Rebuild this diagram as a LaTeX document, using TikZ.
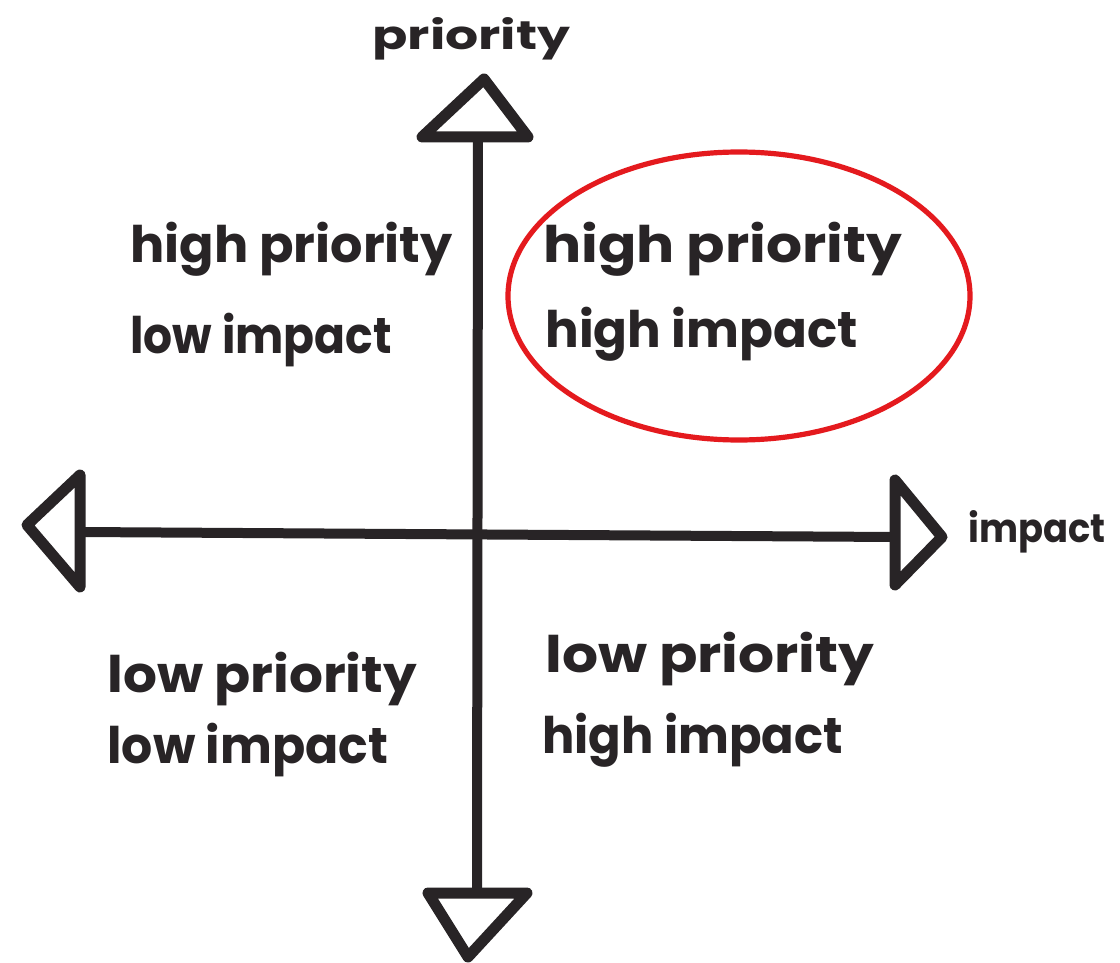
\documentclass[tikz,border=0pt]{standalone}
\usepackage{graphicx}
\usepackage{fontspec}
\setmainfont{Poppins}
\definecolor{ink}{RGB}{40,36,38}
\definecolor{marker}{RGB}{228,26,30}
% hand-lettered line: horizontal stretch factor, then the words
\newcommand{\handline}[2]{\scalebox{#1}[1.05]{#2}}
\begin{document}
\begin{tikzpicture}[x=0.5pt,y=-0.5pt,
  axisline/.style={draw=ink, line width=5pt, line cap=round},
  tiptri/.style={draw=ink, fill=white, line width=5.5pt, line join=round},
  quad/.style={anchor=base west, inner sep=0pt, text=ink,
    font=\fontsize{24}{24}\selectfont\bfseries},
  axlabel/.style={anchor=base west, inner sep=0pt, text=ink,
    font=\fontsize{19}{19}\selectfont\bfseries},
  ring/.style={draw=marker, line width=2.6pt}]
\useasboundingbox (0,0) rectangle (1120,963);

% axis end points
\coordinate (vtop) at (478,137);
\coordinate (vbot) at (477,893);
\coordinate (hleft) at (80,532);
\coordinate (hright) at (895,537);

% axes
\draw[axisline] (vtop) -- (vbot);
\draw[axisline] (hleft) -- (hright);

% hollow triangle heads
\draw[tiptri] (422,137) -- (484,79) -- (528,137) -- cycle;
\draw[tiptri] (428,893) -- (468,957) -- (527,893) -- cycle;
\draw[tiptri] (80,475) -- (27,525) -- (80,587) -- cycle;
\draw[tiptri] (895,480) -- (942,537) -- (895,585) -- cycle;

% axis labels
\node[axlabel] (ylab) at (372,50) {\handline{1.37}{priority}};
\node[axlabel] (xlab) at (968,542) {\handline{0.97}{impact}};

% quadrant labels
\node[quad] (tl1) at (130,263) {\handline{1.06}{high priority}};
\node[quad] (tl2) at (130,353) {\handline{0.95}{low impact}};
\node[quad] (tr1) at (543,263) {\handline{1.18}{high priority}};
\node[quad] (tr2) at (545,347) {\handline{1.04}{high impact}};
\node[quad] (bl1) at (107,692) {\handline{1.11}{low priority}};
\node[quad] (bl2) at (107,763) {\handline{1.02}{low impact}};
\node[quad] (br1) at (545,672) {\handline{1.18}{low priority}};
\node[quad] (br2) at (542,753) {\handline{1.0}{high impact}};

% highlight ring round the top-right quadrant
\draw[ring] (739,296) ellipse [x radius=231, y radius=144];
\end{tikzpicture}
\end{document}
